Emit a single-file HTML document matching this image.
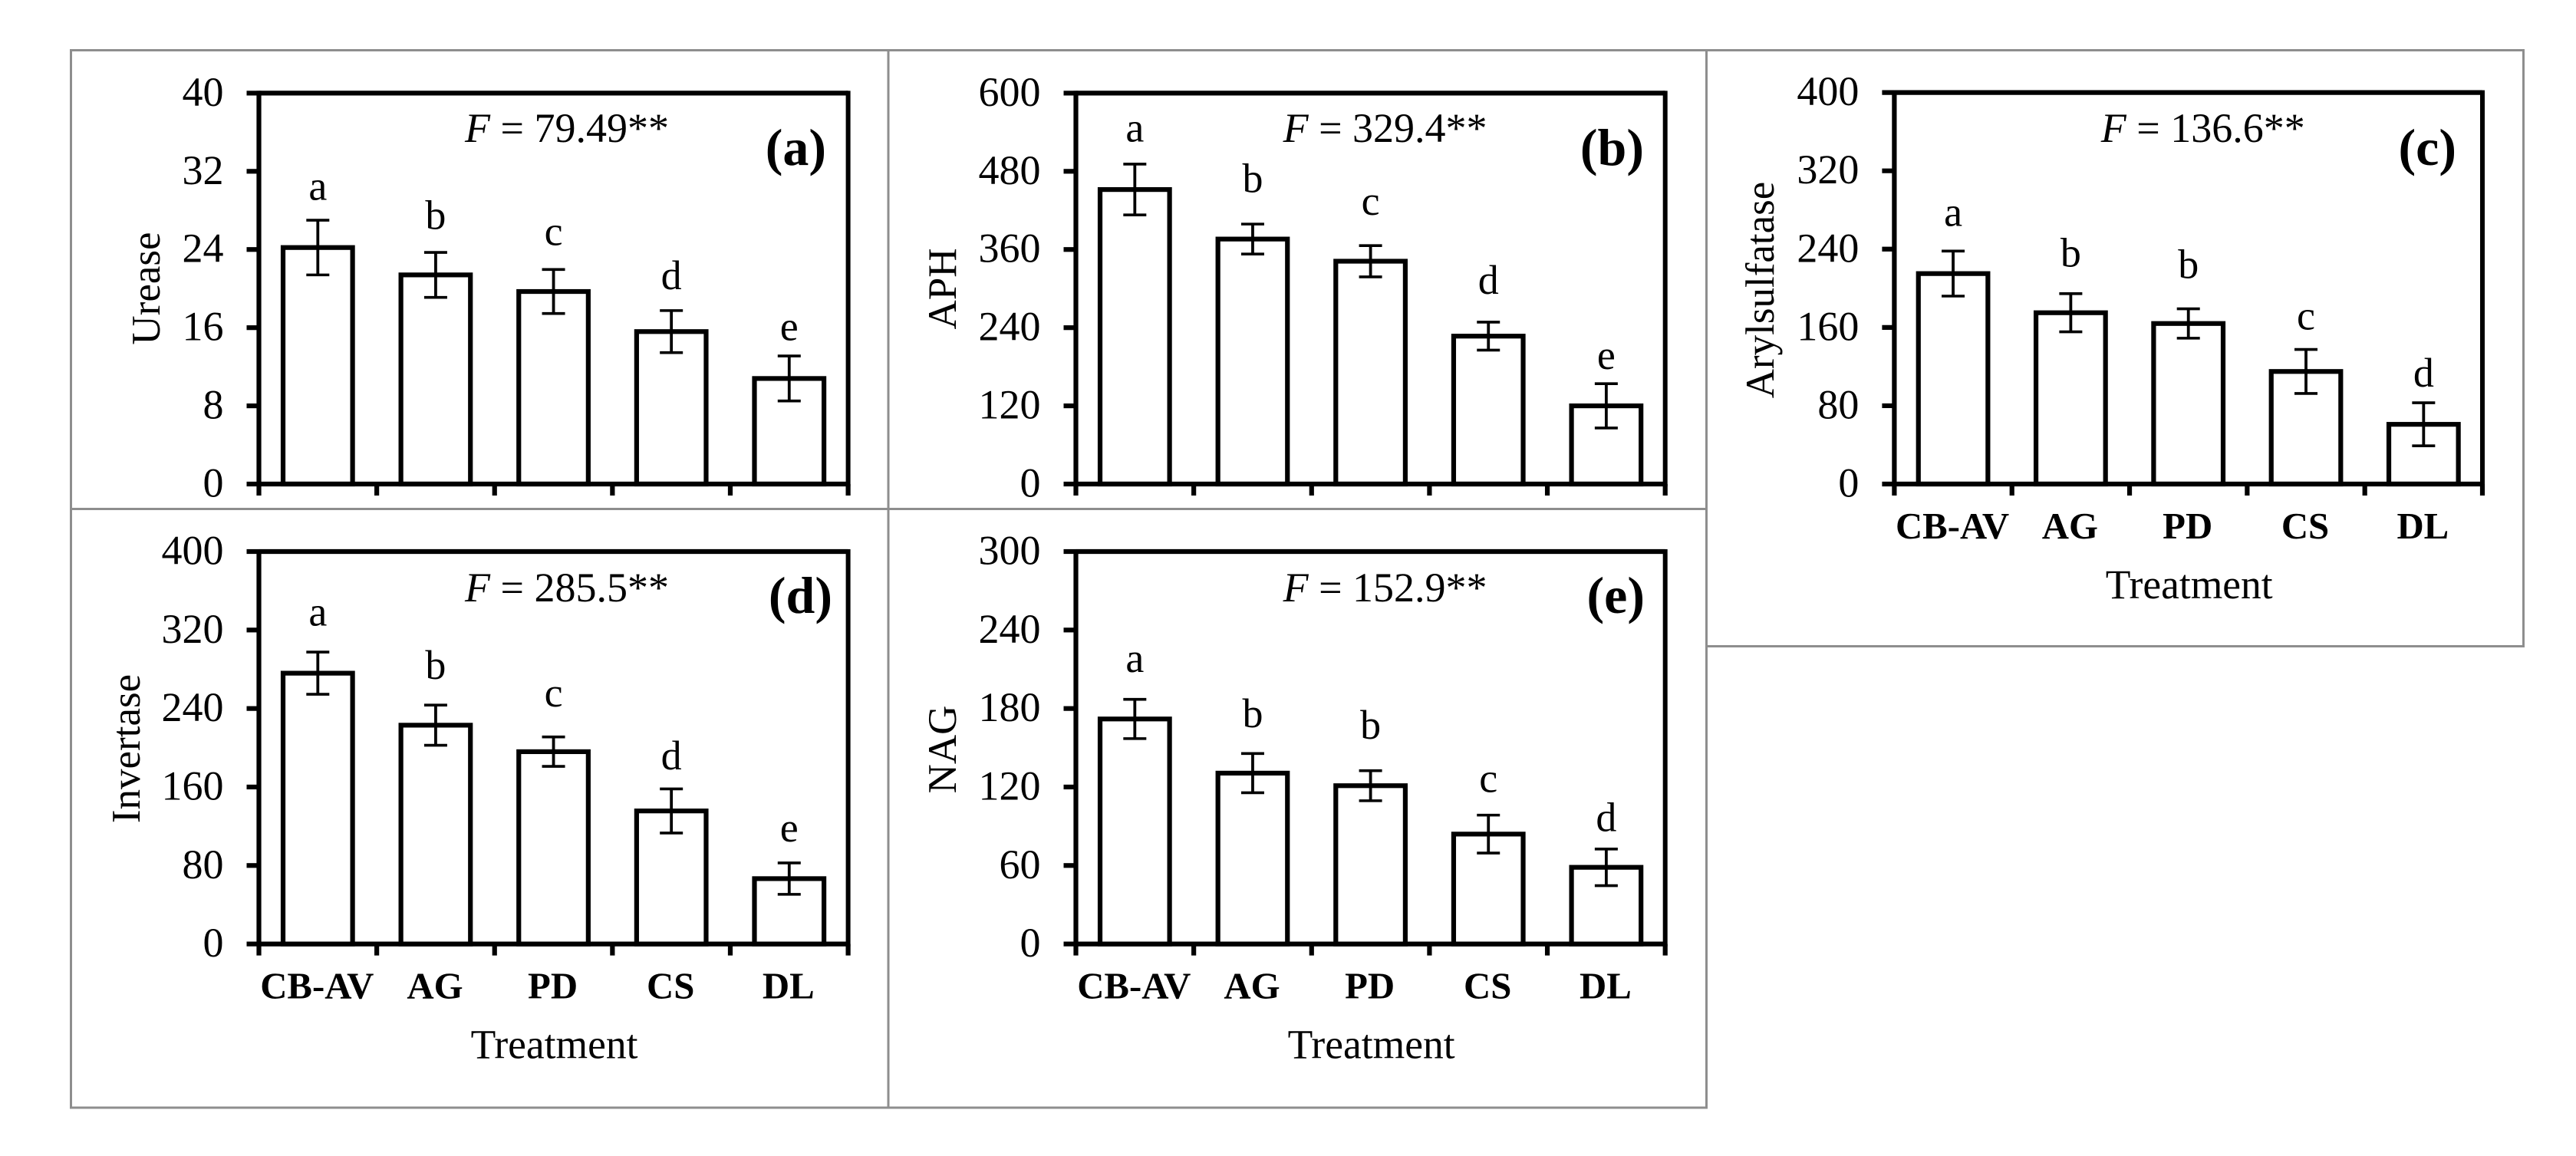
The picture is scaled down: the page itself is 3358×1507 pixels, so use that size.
<!DOCTYPE html>
<html lang="en">
<head>
<meta charset="utf-8">
<title>Soil enzyme activity by treatment</title>
<style>
html,body{margin:0;padding:0;background:#fff;width:3358px;height:1507px;overflow:hidden}
svg{display:block}
text{font-family:"Liberation Serif","Times New Roman",serif;fill:#000}
</style>
</head>
<body>
<svg id="figure" xmlns="http://www.w3.org/2000/svg" width="3358" height="1507" viewBox="0 0 3358 1507">
  <rect x="0" y="0" width="3358" height="1507" fill="#ffffff"/>
  <g fill="none" stroke="#8e8e8e" stroke-width="3">
    <rect x="92.5" y="65.5" width="1065.5" height="598"/>
    <rect x="1158" y="65.5" width="1066.5" height="598"/>
    <rect x="2224.5" y="65.5" width="1065" height="777"/>
    <rect x="92.5" y="663.5" width="1065.5" height="780.5"/>
    <rect x="1158" y="663.5" width="1066.5" height="780.5"/>
  </g>
</svg>
<script>
// Shared categories
const categories = ["CB-AV", "AG", "PD", "CS", "DL"];
const xAxisTitle = "Treatment";

// Panel (a) Urease
const ureaseValues = [24.2, 21.4, 19.7, 15.6, 10.8];
const ureaseErrors = [2.8, 2.3, 2.25, 2.15, 2.3];
const ureaseLetters = ["a", "b", "c", "d", "e"];
const ureaseLetterGaps = [2.1, 2.4, 2.5, 2.2, 1.6];
const ureaseTicks = [0, 8, 16, 24, 32, 40];

// Panel (b) APH
const aphValues = [452, 376, 342, 227, 120];
const aphErrors = [39, 23, 24, 21.5, 34];
const aphLetters = ["a", "b", "c", "d", "e"];
const aphLetterGaps = [34.6, 49, 47, 43.5, 22.6];
const aphTicks = [0, 120, 240, 360, 480, 600];

// Panel (c) Arylsulfatase
const arylValues = [215, 175, 164, 115, 61];
const arylErrors = [23, 19.5, 15, 22.5, 22];
const arylLetters = ["a", "b", "b", "c", "d"];
const arylLetterGaps = [25.6, 27.6, 31.6, 20.4, 16.4];
const arylTicks = [0, 80, 160, 240, 320, 400];

// Panel (d) Invertase
const invertaseValues = [276, 223, 196, 135.6, 66.6];
const invertaseErrors = [21.5, 20.5, 15, 22.5, 16];
const invertaseLetters = ["a", "b", "c", "d", "e"];
const invertaseLetterGaps = [27, 26.7, 31, 20, 22];
const invertaseTicks = [0, 80, 160, 240, 320, 400];

// Panel (e) NAG
const nagValues = [172, 130.6, 121, 84, 58.6];
const nagErrors = [15, 15, 11.5, 14.5, 14];
const nagLetters = ["a", "b", "b", "c", "d"];
const nagLetterGaps = [21, 20, 24.5, 17.6, 13.8];
const nagTicks = [0, 60, 120, 180, 240, 300];

const panels = [
  {id:"a", tag:"(a)", yTitle:"Urease", stat:" = 79.49**", values:ureaseValues, errors:ureaseErrors, letters:ureaseLetters, gaps:ureaseLetterGaps, ticks:ureaseTicks,
   left:337.5, right:1105.6, top:121.4, bottom:631, statX:606, statY:185, tagX:1077, tagY:215, titleX:208, titleY:376, xLabels:false},
  {id:"b", tag:"(b)", yTitle:"APH", stat:" = 329.4**", values:aphValues, errors:aphErrors, letters:aphLetters, gaps:aphLetterGaps, ticks:aphTicks,
   left:1402.5, right:2170.7, top:121.4, bottom:631, statX:1672.6, statY:185, tagX:2143, tagY:215, titleX:1246, titleY:376.5, xLabels:false},
  {id:"c", tag:"(c)", yTitle:"Arylsulfatase", stat:" = 136.6**", values:arylValues, errors:arylErrors, letters:arylLetters, gaps:arylLetterGaps, ticks:arylTicks,
   left:2469.4, right:3236, top:120.6, bottom:631, statX:2738.8, statY:185, tagX:3202, tagY:215, titleX:2312, titleY:378, xLabels:true},
  {id:"d", tag:"(d)", yTitle:"Invertase", stat:" = 285.5**", values:invertaseValues, errors:invertaseErrors, letters:invertaseLetters, gaps:invertaseLetterGaps, ticks:invertaseTicks,
   left:337.5, right:1105.6, top:719, bottom:1230.6, statX:606, statY:784, tagX:1085, tagY:799, titleX:182, titleY:976, xLabels:true},
  {id:"e", tag:"(e)", yTitle:"NAG", stat:" = 152.9**", values:nagValues, errors:nagErrors, letters:nagLetters, gaps:nagLetterGaps, ticks:nagTicks,
   left:1402.5, right:2170.7, top:719, bottom:1230.6, statX:1672.6, statY:784, tagX:2144, tagY:799, titleX:1246, titleY:977, xLabels:true}
];

const NS = "http://www.w3.org/2000/svg";
const svg = document.getElementById("figure");

function make(tag, attrs, parent) {
  const el = document.createElementNS(NS, tag);
  for (const k in attrs) el.setAttribute(k, attrs[k]);
  parent.appendChild(el);
  return el;
}
function seg(parent, x1, y1, x2, y2, w) {
  return make("line", {x1:x1, y1:y1, x2:x2, y2:y2, stroke:"#000", "stroke-width":w}, parent);
}

panels.forEach(function (p) {
  const yMax = p.ticks[p.ticks.length - 1];
  const yScale = function (v) { return p.bottom - (v / yMax) * (p.bottom - p.top); };
  const band = (p.right - p.left) / categories.length;
  const xCenter = function (i) { return p.left + band * (i + 0.5); };

  const g = make("g", {}, svg);
  
  

  // bars, error bars, significance letters
  p.values.forEach(function (v, i) {
    const cx = xCenter(i);
    const hi = yScale(v + p.errors[i]);
    const lo = yScale(v - p.errors[i]);

    const bar = make("rect", {x:cx - 45.3, y:yScale(v), width:90.6, height:p.bottom - yScale(v), fill:"#fff", stroke:"#000", "stroke-width":6.2}, g);
    
    

    const stem = seg(g, cx, hi, cx, lo, 3.8);
    
    

    const capTop = seg(g, cx - 15, hi, cx + 15, hi, 3.6);
    
    

    const capLow = seg(g, cx - 15, lo, cx + 15, lo, 3.6);
    
    

    const letter = make("text", {x:cx, y:yScale(v + p.errors[i] + p.gaps[i]), "text-anchor":"middle", "font-size":54}, g);
    letter.textContent = p.letters[i];
    
    
  });

  // plot border
  const axisLeft = seg(g, p.left, p.top - 3, p.left, p.bottom + 3, 6.2);
  
  

  const axisRight = seg(g, p.right, p.top - 3, p.right, p.bottom + 3, 6);
  
  

  const axisBottom = seg(g, p.left, p.bottom, p.right, p.bottom, 6.2);
  
  

  const axisTop = seg(g, p.left, p.top, p.right, p.top, 6.2);
  
  

  // y ticks and labels
  p.ticks.forEach(function (t) {
    const y = yScale(t);
    const tick = seg(g, p.left - 16, y, p.left, y, 6.2);
    
    

    const label = make("text", {x:p.left - 46, y:y + 16.5, "text-anchor":"end", "font-size":54}, g);
    label.textContent = String(t);
    
    
  });

  // x ticks at category boundaries
  for (let i = 0; i <= categories.length; i++) {
    const x = p.left + band * i;
    const tick = seg(g, x, p.bottom, x, p.bottom + 15, 6.2);
    
    
  }

  // x labels and title on panels that show them
  if (p.xLabels) {
    categories.forEach(function (c, i) {
      const label = make("text", {x:xCenter(i) - 1, y:p.bottom + 71, "text-anchor":"middle", "font-size":48.8, "font-weight":"bold"}, g);
      label.textContent = c;
      
      
    });
    const xTitle = make("text", {x:(p.left + p.right) / 2 + 1, y:p.bottom + 149, "text-anchor":"middle", "font-size":53.5}, g);
    xTitle.textContent = xAxisTitle;
    
    
  }

  // y title
  const yTitle = make("text", {x:0, y:0, "text-anchor":"middle", "font-size":53, transform:"translate(" + p.titleX + " " + p.titleY + ") rotate(-90)"}, g);
  yTitle.textContent = p.yTitle;
  
  

  // F statistic
  const stat = make("text", {x:p.statX, y:p.statY, "font-size":54}, g);
  
  
  const statF = make("tspan", {"font-style":"italic"}, stat);
  statF.textContent = "F";
  const statRest = make("tspan", {}, stat);
  statRest.textContent = p.stat;

  // panel tag
  const tag = make("text", {x:p.tagX, y:p.tagY, "text-anchor":"end", "font-size":68, "font-weight":"bold"}, g);
  tag.textContent = p.tag;
  
  
});
</script>
</body>
</html>
